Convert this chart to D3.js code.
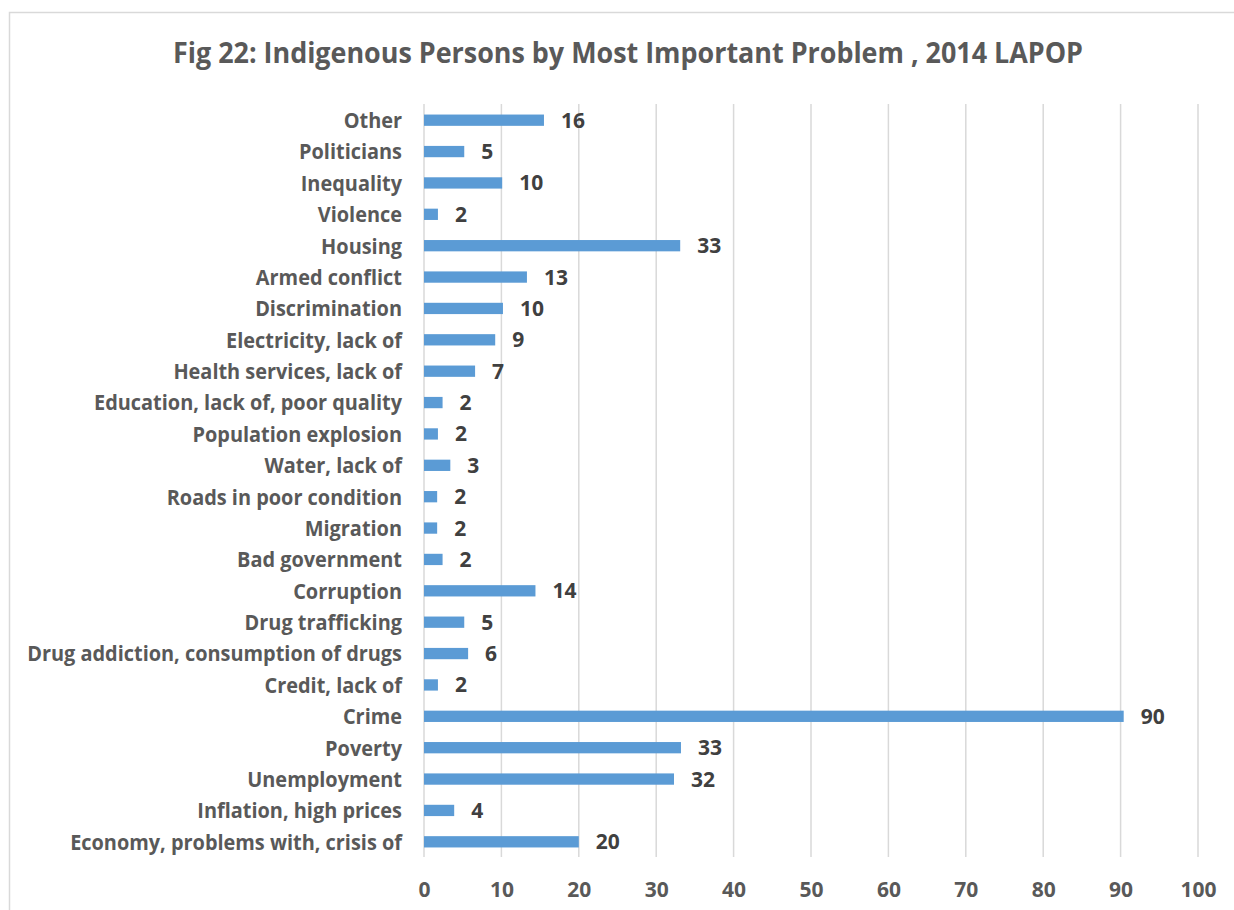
<!DOCTYPE html>
<html><head><meta charset="utf-8">
<script src="https://cdn.jsdelivr.net/npm/d3@7"></script>
<style>body{margin:0;background:#fff;} svg{display:block;}</style>
</head><body>
<svg id="chart" width="1234" height="910"></svg>
<script>
const title = "Fig 22: Indigenous Persons by Most Important Problem , 2014 LAPOP";
const categories = ["Other","Politicians","Inequality","Violence","Housing","Armed conflict","Discrimination","Electricity, lack of","Health services, lack of","Education, lack of, poor quality","Population explosion","Water, lack of","Roads in poor condition","Migration","Bad government","Corruption","Drug trafficking","Drug addiction, consumption of drugs","Credit, lack of","Crime","Poverty","Unemployment","Inflation, high prices","Economy, problems with, crisis of"];
const values = [15.5,5.2,10.1,1.8,33.1,13.3,10.2,9.2,6.6,2.4,1.8,3.4,1.7,1.7,2.4,14.4,5.2,5.7,1.8,90.4,33.2,32.3,3.9,20.0];
const xTicks = [0,10,20,30,40,50,60,70,80,90,100];

const svg = d3.select("#chart");
const font = "'Open Sans', sans-serif";
svg.append("rect").attr("x",9.5).attr("y",12.5).attr("width",1300).attr("height",1000)
  .attr("fill","none").attr("stroke","#d9d9d9").attr("stroke-width",1.5);

const t = svg.append("text").attr("x",628).attr("y",63).attr("text-anchor","middle")
  .attr("font-family",font).attr("font-weight","bold").attr("font-size",28)
  .attr("fill","#595959").text(title);
t.attr("textLength",910).attr("lengthAdjust","spacingAndGlyphs");

const x = d3.scaleLinear().domain([0,100]).range([424,1198]);
const y = d3.scaleBand().domain(categories).range([104.5,857.5]).paddingInner(0.64).paddingOuter(0.32);

svg.append("g").selectAll("line").data(xTicks).join("line")
  .attr("x1",d=>x(d)).attr("x2",d=>x(d)).attr("y1",104).attr("y2",857)
  .attr("stroke","#d9d9d9").attr("stroke-width",1.5);

svg.append("g").selectAll("rect").data(values).join("rect")
  .attr("x",x(0)).attr("y",(d,i)=>y(categories[i]))
  .attr("width",d=>x(d)-x(0)).attr("height",y.bandwidth())
  .attr("fill","#5b9bd5");

const xAxis = d3.axisBottom(x).tickValues(xTicks).tickSize(0).tickPadding(0);
const gx = svg.append("g").attr("transform","translate(0,882)").call(xAxis);
gx.select(".domain").remove();
gx.selectAll("text").attr("font-family",font).attr("font-weight","bold").attr("font-size",21).attr("fill","#595959");

const yAxis = d3.axisLeft(y).tickSize(0).tickPadding(0);
const gy = svg.append("g").call(yAxis);
gy.select(".domain").remove();
gy.selectAll("text").attr("font-family",font).attr("font-weight","bold").attr("font-size",22).attr("fill","#595959").attr("dy","0.36em");
// compress labels horizontally to match the narrow reference face
let maxW = 0;
gy.selectAll("text").each(function(){ maxW = Math.max(maxW, this.getComputedTextLength()); });
const sx = maxW > 0 ? 375 / maxW : 1;
gy.attr("transform",`translate(402,0) scale(${sx},1)`);

svg.append("g").selectAll("text").data(values).join("text")
  .attr("x",d=>x(d)+17).attr("y",(d,i)=>y(categories[i])+y.bandwidth()/2)
  .attr("dy","0.36em")
  .attr("font-family",font).attr("font-weight","bold").attr("font-size",21).attr("fill","#404040")
  .text(d=>d3.format(".0f")(d));
</script>
</body></html>
